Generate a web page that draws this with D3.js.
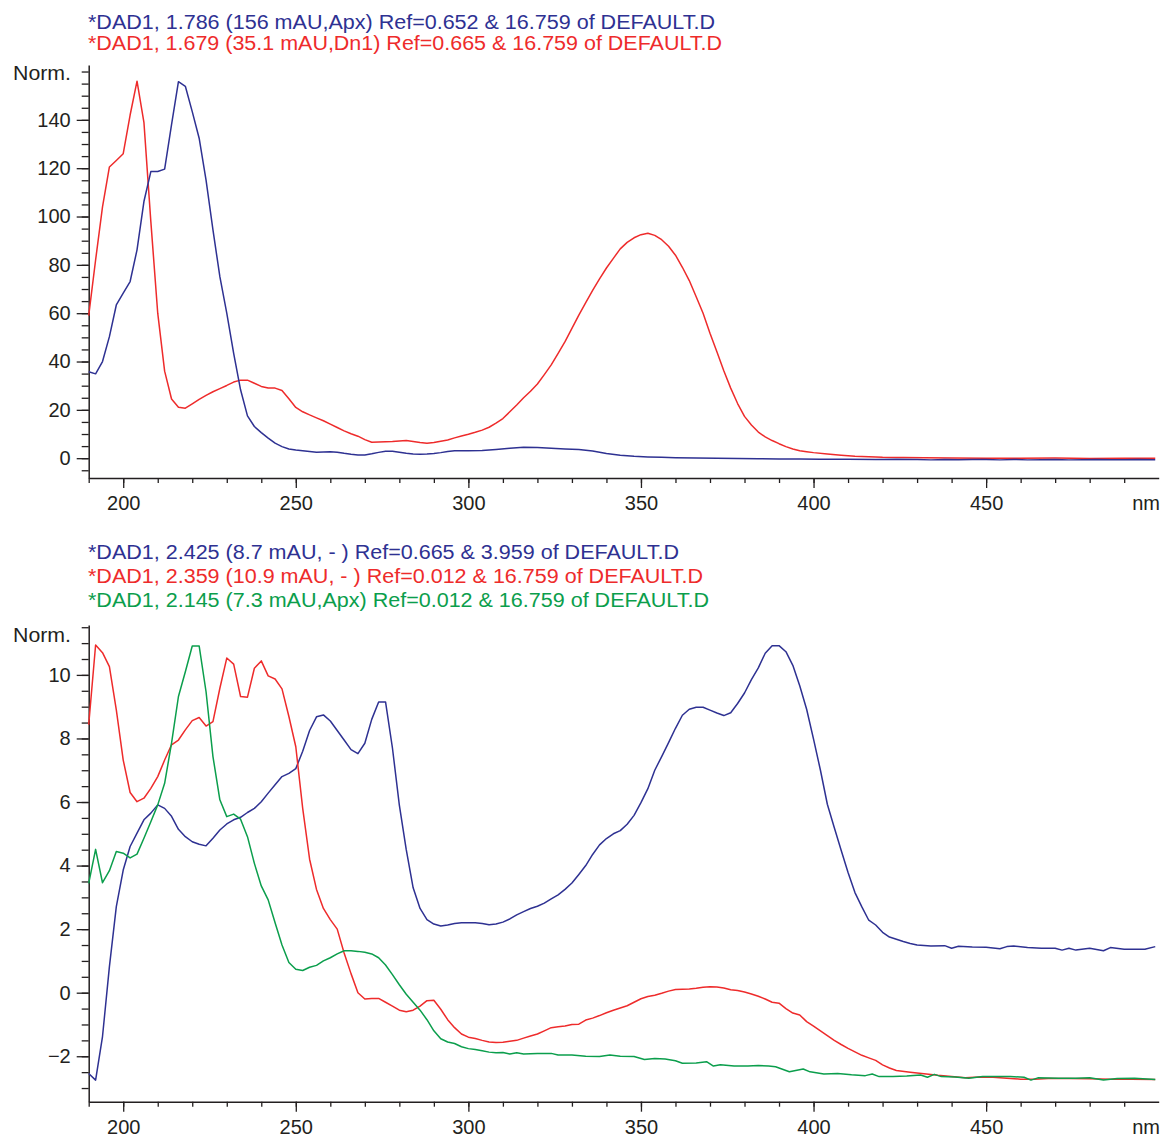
<!DOCTYPE html>
<html><head><meta charset="utf-8">
<script src="https://cdn.jsdelivr.net/npm/d3@7"></script>
<style>
body{margin:0;background:#fff}
svg{display:block}
text{font-family:"Liberation Sans", Arial, Helvetica, sans-serif}
</style>
</head><body>
<svg id="chart" width="1162" height="1141"></svg>
<script>
// ---------- data ----------
const topLegend = [
  {text: "*DAD1, 1.786 (156 mAU,Apx) Ref=0.652 & 16.759 of DEFAULT.D", color: "blue"},
  {text: "*DAD1, 1.679 (35.1 mAU,Dn1) Ref=0.665 & 16.759 of DEFAULT.D", color: "red"}
];
const bottomLegend = [
  {text: "*DAD1, 2.425 (8.7 mAU, - ) Ref=0.665 & 3.959 of DEFAULT.D", color: "blue"},
  {text: "*DAD1, 2.359 (10.9 mAU, - ) Ref=0.012 & 16.759 of DEFAULT.D", color: "red"},
  {text: "*DAD1, 2.145 (7.3 mAU,Apx) Ref=0.012 & 16.759 of DEFAULT.D", color: "green"}
];
const xTickLabels = [200, 250, 300, 350, 400, 450];
const topYTickLabels = [0, 20, 40, 60, 80, 100, 120, 140];
const bottomYTickLabels = [-2, 0, 2, 4, 6, 8, 10];

const topBlue = [[190,35.8],[192,34.9],[194,40],[196,50.3],[198,63.4],[200,68.3],[202,73.1],[204,86.2],[206,106.2],[208,118.6],[210,118.6],[212,119.6],[214,138],[216,155.8],[218,153.9],[220,143.4],[222,132.4],[224,115.1],[226,94.5],[228,75.1],[230,60],[232,43.4],[234,28.3],[236,17.5],[238,13.1],[240,10.6],[242,8.3],[244,6.2],[246,4.8],[248,3.8],[250,3.4],[252,3.1],[254,2.8],[256,2.5],[258,2.6],[260,2.7],[262,2.5],[264,2],[266,1.6],[268,1.3],[270,1.3],[272,1.8],[274,2.4],[276,2.9],[278,2.9],[280,2.5],[282,2],[284,1.7],[286,1.6],[288,1.7],[290,1.9],[292,2.3],[294,2.8],[296,3.1],[300,3.1],[304,3.2],[308,3.6],[312,4.1],[316,4.5],[320,4.4],[324,4.1],[328,3.8],[332,3.55],[336,3],[340,1.9],[344,1.2],[348,0.75],[352,0.5],[356,0.35],[360,0.2],[366,0.1],[372,0],[378,-0.1],[384,-0.2],[390,-0.3],[396,-0.3],[402,-0.4],[410,-0.4],[418,-0.5],[424,-0.4],[430,-0.5],[434,-0.7],[438,-0.5],[442,-0.6],[446,-0.5],[450,-0.5],[454,-0.7],[458,-0.5],[462,-0.7],[466,-0.6],[470,-0.5],[474,-0.7],[478,-0.6],[482,-0.5],[486,-0.6],[490,-0.6],[494,-0.5],[499,-0.6]];

const topRed = [[190,59],[192,82],[194,104],[196,120.5],[198,123.2],[200,126],[202,142],[204,156],[206,139],[208,98],[210,60],[212,36],[214,24.5],[216,21.1],[218,20.7],[220,22.5],[222,24.3],[224,26],[226,27.5],[228,28.8],[230,30.1],[232,31.5],[234,32.3],[236,32.3],[238,31],[240,29.7],[242,29],[244,29],[246,28],[248,24.6],[250,21],[252,19.2],[254,17.9],[256,16.7],[258,15.5],[260,14.1],[262,12.7],[264,11.3],[266,10.1],[268,9.1],[270,7.7],[272,6.6],[274,6.7],[276,6.8],[278,6.9],[280,7.1],[282,7.3],[284,6.9],[286,6.5],[288,6.2],[290,6.5],[292,7],[294,7.5],[296,8.4],[298,9.2],[300,9.9],[302,10.7],[304,11.6],[306,12.8],[308,14.5],[310,16.4],[312,19.2],[314,22],[316,25],[318,27.7],[320,30.7],[322,34.6],[324,38.6],[326,43.4],[328,48.2],[330,53.7],[332,59.2],[334,64.4],[336,69.4],[338,74.2],[340,78.7],[342,82.7],[344,86.6],[346,89.3],[348,91.2],[350,92.5],[352,93.1],[354,92.2],[356,90.4],[358,87.7],[360,84],[362,79],[364,73.5],[366,66.8],[368,60],[370,51.7],[372,44],[374,36.2],[376,29],[378,22.6],[380,17.3],[382,13.7],[384,10.8],[386,8.8],[388,7.3],[390,6],[392,4.8],[394,3.8],[396,3.1],[398,2.7],[400,2.3],[404,1.7],[408,1.2],[412,0.8],[416,0.6],[420,0.4],[426,0.3],[432,0.2],[440,0.1],[450,0],[460,0],[470,0.1],[480,-0.1],[490,0],[499,0]];

const bottomBlue = [[190,-2.54],[192,-2.75],[194,-1.38],[196,0.82],[198,2.71],[200,3.86],[202,4.6],[204,5.02],[206,5.44],[208,5.65],[210,5.91],[212,5.8],[214,5.55],[216,5.14],[218,4.91],[220,4.75],[222,4.67],[224,4.62],[226,4.86],[228,5.12],[230,5.31],[232,5.44],[234,5.52],[236,5.67],[238,5.8],[240,6.01],[242,6.28],[244,6.54],[246,6.8],[248,6.9],[250,7.05],[252,7.6],[254,8.25],[256,8.68],[258,8.74],[260,8.55],[262,8.25],[264,7.95],[266,7.65],[268,7.52],[270,7.85],[272,8.6],[274,9.15],[276,9.15],[278,7.7],[280,5.9],[282,4.5],[284,3.3],[286,2.65],[288,2.3],[290,2.16],[292,2.1],[294,2.13],[296,2.18],[298,2.2],[300,2.2],[302,2.2],[304,2.18],[306,2.14],[308,2.16],[310,2.22],[312,2.32],[314,2.45],[316,2.55],[318,2.65],[320,2.72],[322,2.82],[324,2.95],[326,3.08],[328,3.25],[330,3.45],[332,3.72],[334,4.0],[336,4.35],[338,4.65],[340,4.85],[342,5.0],[344,5.1],[346,5.3],[348,5.58],[350,5.98],[352,6.42],[354,7.0],[356,7.43],[358,7.87],[360,8.32],[362,8.73],[364,8.92],[366,8.98],[368,8.98],[370,8.89],[372,8.8],[374,8.72],[376,8.81],[378,9.1],[380,9.43],[382,9.85],[384,10.22],[386,10.68],[388,10.92],[390,10.92],[392,10.73],[394,10.3],[396,9.66],[398,8.92],[400,7.98],[402,7.0],[404,5.93],[406,5.2],[408,4.48],[410,3.78],[412,3.15],[414,2.7],[416,2.28],[418,2.13],[420,1.9],[422,1.75],[424,1.68],[426,1.61],[428,1.55],[430,1.5],[434,1.47],[438,1.48],[440,1.4],[442,1.46],[446,1.44],[450,1.43],[454,1.38],[456,1.45],[458,1.47],[462,1.42],[466,1.4],[470,1.4],[472,1.34],[474,1.4],[476,1.34],[480,1.4],[484,1.32],[486,1.42],[490,1.37],[496,1.37],[499,1.45]];

const bottomRed = [[190,8.43],[192,10.94],[194,10.7],[196,10.26],[198,8.9],[200,7.32],[202,6.3],[204,6.01],[206,6.12],[208,6.43],[210,6.8],[212,7.32],[214,7.8],[216,7.95],[218,8.27],[220,8.56],[222,8.66],[224,8.39],[226,8.53],[228,9.58],[230,10.53],[232,10.34],[234,9.32],[236,9.3],[238,10.21],[240,10.44],[242,9.97],[244,9.87],[246,9.56],[248,8.69],[250,7.74],[252,5.8],[254,4.2],[256,3.25],[258,2.65],[260,2.3],[262,2.0],[264,1.25],[266,0.6],[268,0],[270,-0.2],[272,-0.18],[274,-0.18],[276,-0.3],[278,-0.42],[280,-0.55],[282,-0.6],[284,-0.55],[286,-0.42],[288,-0.25],[290,-0.24],[292,-0.52],[294,-0.85],[296,-1.1],[298,-1.3],[300,-1.4],[302,-1.44],[304,-1.5],[306,-1.55],[308,-1.57],[310,-1.56],[312,-1.53],[314,-1.5],[316,-1.43],[318,-1.36],[320,-1.3],[322,-1.2],[324,-1.1],[326,-1.07],[328,-1.05],[330,-1.0],[332,-0.99],[334,-0.86],[336,-0.8],[338,-0.72],[340,-0.63],[342,-0.55],[344,-0.48],[346,-0.41],[348,-0.3],[350,-0.19],[352,-0.12],[354,-0.08],[356,-0.02],[358,0.05],[360,0.1],[362,0.11],[364,0.12],[366,0.14],[368,0.17],[370,0.19],[372,0.18],[374,0.15],[376,0.09],[378,0.07],[380,0.02],[382,-0.04],[384,-0.11],[386,-0.2],[388,-0.3],[390,-0.33],[392,-0.5],[394,-0.64],[396,-0.7],[398,-0.91],[400,-1.05],[402,-1.2],[404,-1.35],[406,-1.5],[408,-1.63],[410,-1.75],[412,-1.86],[414,-1.97],[416,-2.05],[418,-2.13],[420,-2.27],[422,-2.37],[424,-2.45],[428,-2.5],[432,-2.55],[436,-2.6],[440,-2.64],[444,-2.68],[448,-2.65],[452,-2.66],[456,-2.69],[460,-2.72],[464,-2.72],[468,-2.7],[474,-2.7],[480,-2.71],[486,-2.72],[492,-2.72],[499,-2.73]];

const bottomGreen = [[190,3.44],[192,4.51],[194,3.46],[196,3.84],[198,4.44],[200,4.39],[202,4.24],[204,4.36],[206,4.86],[208,5.38],[210,5.91],[212,6.59],[214,7.85],[216,9.32],[218,10.1],[220,10.91],[222,10.91],[224,9.47],[226,7.43],[228,6.07],[230,5.54],[232,5.62],[234,5.46],[236,4.91],[238,4.07],[240,3.36],[242,2.92],[244,2.2],[246,1.5],[248,0.95],[250,0.74],[252,0.7],[254,0.8],[256,0.86],[258,1.0],[260,1.1],[262,1.22],[264,1.32],[266,1.32],[268,1.3],[270,1.27],[272,1.22],[274,1.1],[276,0.87],[278,0.57],[280,0.25],[282,-0.05],[284,-0.3],[286,-0.55],[288,-0.85],[290,-1.2],[292,-1.45],[294,-1.55],[296,-1.6],[298,-1.7],[300,-1.76],[302,-1.79],[304,-1.83],[306,-1.87],[308,-1.89],[310,-1.88],[312,-1.93],[314,-1.89],[316,-1.93],[318,-1.92],[320,-1.91],[324,-1.91],[326,-1.96],[330,-1.96],[334,-2.0],[338,-2.01],[341,-1.96],[344,-2.0],[348,-2.01],[351,-2.1],[354,-2.07],[357,-2.09],[360,-2.14],[362,-2.22],[366,-2.21],[369,-2.17],[371,-2.31],[373,-2.27],[377,-2.31],[381,-2.31],[384,-2.29],[387,-2.31],[389,-2.33],[393,-2.49],[397,-2.4],[399,-2.49],[403,-2.56],[407,-2.54],[411,-2.58],[415,-2.61],[417,-2.56],[419,-2.64],[423,-2.64],[427,-2.62],[431,-2.59],[433,-2.66],[435,-2.57],[437,-2.64],[441,-2.65],[445,-2.69],[449,-2.64],[453,-2.64],[457,-2.64],[461,-2.66],[463,-2.75],[465,-2.68],[471,-2.69],[476,-2.69],[480,-2.68],[484,-2.75],[488,-2.7],[493,-2.69],[499,-2.73]];

// ---------- style / layout ----------
const colors = {blue: "#2e3192", red: "#ee2b2b", green: "#0b9e4c"};
const inkColor = "#231f20";
const svg = d3.select("#chart");

const x = d3.scaleLinear().domain([190, 500]).range([88.7, 1158.7]);

function drawPanel(cfg) {
  const y = d3.scaleLinear().domain(cfg.yDomain).range(cfg.yRange);
  const g = svg.append("g");

  // legend
  cfg.legend.forEach((d, i) => {
    g.append("text")
      .attr("x", 88)
      .attr("y", cfg.legendY + i * cfg.legendStep)
      .attr("font-size", 20)
      .attr("fill", colors[d.color])
      .attr("textLength", cfg.legendWidths[i])
      .attr("lengthAdjust", "spacingAndGlyphs")
      .text(d.text);
  });

  // y axis: minor ticks
  const yMinor = d3.range(cfg.yMinorStart, cfg.yMinorEnd + 1e-9, cfg.yMinorStep);
  const gyMinor = g.append("g").attr("transform", `translate(${x.range()[0]},0)`)
    .call(d3.axisLeft(y).tickValues(yMinor).tickSize(7).tickFormat(""));
  gyMinor.select(".domain").remove();
  gyMinor.selectAll("line").attr("stroke", inkColor).attr("stroke-width", 1.3);

  const gy = g.append("g").attr("transform", `translate(${x.range()[0]},0)`)
    .call(d3.axisLeft(y).tickValues(cfg.yLabels).tickSize(12).tickPadding(6).tickSizeOuter(0)
      .tickFormat(v => v < 0 ? "\u2212" + Math.abs(v) : String(v)));
  gy.select(".domain").attr("stroke", inkColor).attr("stroke-width", 1.5);
  gy.selectAll("line").attr("stroke", inkColor).attr("stroke-width", 1.3);
  gy.selectAll("text").attr("font-size", 20).attr("fill", inkColor).attr("font-family", '"Liberation Sans", Arial, sans-serif');

  g.append("text")
    .attr("x", 13).attr("y", y(cfg.normValue))
    .attr("dy", "0.35em")
    .attr("font-size", 20).attr("fill", inkColor)
    .attr("textLength", 58).attr("lengthAdjust", "spacingAndGlyphs")
    .text("Norm.");

  // x axis
  const xMinor = d3.range(190, 500, 10);
  const bottom = cfg.yRange[0];
  const gxMinor = g.append("g").attr("transform", `translate(0,${bottom})`)
    .call(d3.axisBottom(x).tickValues(xMinor).tickSize(5).tickFormat(""));
  gxMinor.select(".domain").remove();
  gxMinor.selectAll("line").attr("stroke", inkColor).attr("stroke-width", 1.3);

  const gx = g.append("g").attr("transform", `translate(0,${bottom})`)
    .call(d3.axisBottom(x).tickValues(xTickLabels).tickSize(10).tickPadding(8).tickSizeOuter(0));
  gx.select(".domain").attr("stroke", inkColor).attr("stroke-width", 1.5);
  gx.selectAll("line").attr("stroke", inkColor).attr("stroke-width", 1.3);
  gx.selectAll("text").attr("font-size", 20).attr("fill", inkColor).attr("font-family", '"Liberation Sans", Arial, sans-serif');

  g.append("text")
    .attr("x", 1160).attr("y", bottom + 18).attr("dy", "0.71em")
    .attr("text-anchor", "end")
    .attr("font-size", 20).attr("fill", inkColor)
    .text("nm");

  // curves
  const line = d3.line().x(d => x(d[0])).y(d => y(d[1]));
  cfg.series.forEach(s => {
    g.append("path")
      .datum(s.data)
      .attr("fill", "none")
      .attr("stroke", colors[s.color])
      .attr("stroke-width", 1.5)
      .attr("stroke-linejoin", "round")
      .attr("d", line);
  });
}

drawPanel({
  yDomain: [-8.2, 162.7], yRange: [478, 65],
  yMinorStart: -5, yMinorEnd: 160, yMinorStep: 5,
  yLabels: topYTickLabels,
  normValue: 159.3,
  legend: topLegend, legendY: 29, legendStep: 21, legendWidths: [627, 634],
  series: [{data: topRed, color: "red"}, {data: topBlue, color: "blue"}]
});

drawPanel({
  yDomain: [-3.43, 11.57], yRange: [1101.7, 625],
  yMinorStart: -3, yMinorEnd: 11.5, yMinorStep: 0.5,
  yLabels: bottomYTickLabels,
  normValue: 11.24,
  legend: bottomLegend, legendY: 559, legendStep: 24, legendWidths: [591, 615, 621],
  series: [{data: bottomBlue, color: "blue"}, {data: bottomRed, color: "red"}, {data: bottomGreen, color: "green"}]
});
</script>
</body></html>
